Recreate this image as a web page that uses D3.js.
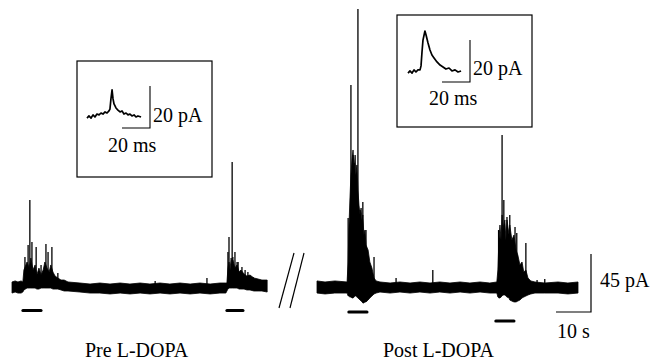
<!DOCTYPE html>
<html><head><meta charset="utf-8">
<script src="https://cdn.jsdelivr.net/npm/d3@7"></script>
<style>
body{margin:0;background:#fff}
text{font-family:"Liberation Serif","Times New Roman",serif;font-size:20px;fill:#000}
</style>
</head><body>
<svg id="c" width="650" height="360"></svg>
<script>
// ---------- DATA (time in s, current in pA) ----------
// Pre L-DOPA trace: noise-band envelope
const preEnvT  = [0,0.9,1.7,2.6,3.1, 3.4,4.3,4.9,5.4,6.0,6.6,7.1,7.7,8.3,8.9,9.4,10.0,10.6,11.1,11.7,12.3,13.1,14.0,14.9,16.0, 19.4,22.3,25.1,28,30.9,33.7,36.6,39.4,42.3,45.1,48,50.9,53.7,56.6,59.4,61.1, 61.4,61.7,62.0,62.3,62.6,62.9,63.1,63.7,64.3,64.9,65.4,66.3,67.1,68.0,69.1,70.3,71.4,72.9];
const preEnvHi = [3.9,4.7,3.9,4.7,3.9, 13.2,19.4,14.7,22.5,13.2,17.1,9.3,14.7,9.3,13.2,19.4,14.7,11.6,17.1,11.6,8.5,7.0,5.4,5.4,3.9, 3.1,2.3,3.1,2.3,3.1,2.3,3.1,2.3,3.1,2.3,3.1,2.3,3.1,2.3,3.1,3.1, 3.1,14.7,19.4,13.2,22.5,17.1,20.9,14.7,17.1,11.6,13.2,10.1,8.5,9.3,7.0,6.2,5.4,5.4];
const preEnvLo = [-4.7,-3.9,-4.7,-4.7,-3.9, -2.3,-0.8,-0.8,-0.8,-0.8,-0.8,-1.6,-1.6,-0.8,-0.8,-0.8,-0.8,-0.8,-0.8,-1.6,-1.6,-1.6,-2.3,-3.1,-3.1, -3.9,-4.7,-4.7,-5.4,-4.7,-5.4,-4.7,-5.4,-4.7,-5.4,-4.7,-5.4,-4.7,-5.4,-4.7,-4.7, -3.1,-1.6,-0.8,-0.8,-0.8,-0.8,-0.8,-0.8,-0.8,-1.6,-1.6,-1.6,-2.3,-2.3,-3.1,-3.1,-3.1,-3.9];
// Pre L-DOPA spikes (time, peak)
const preSpikeT = [3.7,4.6,5.1,5.7,6.9,8.3,9.7,10.3,11.4,13.1,40.9,55.7,61.7,62.0,62.9,63.1,63.7,64.3,64.6,65.7,66.6,67.4,68.9];
const preSpikeI = [23.3,32.6,67.5,34.9,31.0,17.1,33.4,27.2,31.0,10.9,4.7,7.0,27.2,38.8,97.0,23.3,27.2,19.4,19.4,15.5,13.2,11.6,7.8];
// Pre L-DOPA stimulus bars [start, end]
const preBarStart = [3.1,61.4];
const preBarEnd   = [8.3,66.0];

// Post L-DOPA trace: envelope
const postEnvT  = [0,2.3,5.1,8.6, 8.9,9.1,9.4,9.7,10.0,10.3,10.6,10.9,11.1,11.4,11.7,12.0,12.3,12.6,12.9,13.1,13.4,13.7,14.0,14.6,15.1,15.7,16.3,16.9, 18,20.9,23.7,26.6,29.4,32.3,35.1,38,40.9,43.7,46.6,49.4,51.4, 51.7,52.0,52.3,52.6,52.9,53.1,53.7,54.0,54.3,54.9,55.1,55.7,56.3,56.9,57.4,58.0,58.6,59.1,59.7,60.3,61.1, 62.3,65.1,68.9,71.7,74.6];
const postEnvHi = [4.7,3.9,4.7,3.9, 19.4,44.2,67.5,86.9,98.5,106.3,90.8,102.4,86.9,94.7,75.3,63.6,55.9,61.3,50.4,55.9,40.3,44.2,32.6,28.7,19.4,14.7,7.0,4.7, 3.9,3.1,3.9,3.1,3.9,3.1,3.9,3.1,3.9,3.1,3.9,3.1,3.9, 13.2,36.5,48.1,36.5,55.9,44.2,52.0,36.5,52.0,40.3,48.1,36.5,40.3,28.7,24.8,17.1,19.4,11.6,13.2,7.0,4.7, 3.9,3.1,3.9,3.1,3.9];
const postEnvLo = [-4.7,-5.4,-4.7,-4.7, -7.0,-7.0,-7.8,-7.8,-8.5,-8.5,-7.8,-7.0,-7.0,-7.8,-8.5,-9.3,-10.1,-10.9,-11.6,-12.4,-12.4,-11.6,-11.6,-10.1,-8.5,-7.0,-5.4,-4.7, -3.9,-4.7,-3.9,-4.7,-3.9,-4.7,-3.9,-4.7,-3.9,-4.7,-3.9,-4.7,-4.7, -7.8,-8.5,-8.5,-7.8,-7.0,-6.2,-6.2,-7.0,-7.8,-8.5,-10.1,-10.9,-11.6,-11.6,-10.9,-10.1,-8.5,-7.8,-7.0,-6.2,-5.4, -4.7,-4.7,-4.7,-5.4,-4.7];
const postSpikeT = [8.9,9.7,10.3,10.6,11.7,12.3,13.1,14.0,16.3,22.6,33.1,51.9,52.9,53.4,54.3,55.1,56.6,57.1,58.0,59.7,62.9,65.1];
const postSpikeI = [53.5,156.7,102.4,96.2,215.7,59.7,65.9,44.2,23.3,7.0,13.2,44.2,117.9,67.5,54.3,55.9,46.6,41.9,15.5,34.1,5.4,6.2];
const postBarStart = [9.1,51.1];
const postBarEnd   = [14.3,56.3];

// Insets: averaged EPSCs (time in ms, current in pA)
const preInsetT = [0,1.4,2.9,4.3,5.7,7.1,8.6,10,11.4,12.9,14.3,15.7,16.4,17.1,17.9,18.6,19.3,20.7,22.1,23.6,25,26.4,27.9,29.3,30.7,32.1,33.6,35,36.4,38.6];
const preInsetI = [-0.5,0.5,-0.5,1,0,1.4,1,1.9,1.4,2.4,1.9,2.9,3.8,8.6,12.9,8.6,6.2,4.3,3.3,2.4,2.9,1.4,1.9,1,1.4,0.5,1,0,0.5,0];
const postInsetT = [0,1.4,2.9,4.3,5.7,7.1,8.6,9.3,10,10.7,12.1,12.9,14.3,15.7,17.1,18.6,20.7,22.9,25,27.1,29.3,31.4,33.6,35.7,37.9];
const postInsetI = [-0.5,0.5,-0.5,1,0,1,1,2.9,9.5,15.2,19.5,17.6,13.8,10.5,8.1,6.7,4.8,3.3,2.4,1.4,1.9,0.5,1,0,0.5];

// Labels
const mainScaleI = 45, mainScaleT = 10, insetScaleI = 20, insetScaleT = 20;
const panelLabels = ["Pre L-DOPA","Post L-DOPA"];

// ---------- DRAW ----------
const svg = d3.select("#c");
const yMain = d3.scaleLinear().domain([0,45]).range([287,229]);
const xPre  = d3.scaleLinear().domain([0,73]).range([12,267.5]);
const xPost = d3.scaleLinear().domain([0,74.6]).range([317,578]);

function drawTrace(x, T, Hi, Lo, ST, SI, B0, B1, barYs){
  const env = T.map((t,i)=>({t, hi:Hi[i], lo:Lo[i]}));
  const area = d3.area().x(d=>x(d.t)).y0(d=>yMain(d.lo)).y1(d=>yMain(d.hi));
  svg.append("path").datum(env).attr("d",area)
     .attr("fill","#000").attr("stroke","#000").attr("stroke-width",0.8);
  svg.append("g").selectAll("line").data(ST.map((t,i)=>({t,v:SI[i]}))).join("line")
     .attr("x1",d=>x(d.t)).attr("x2",d=>x(d.t))
     .attr("y1",yMain(0)).attr("y2",d=>yMain(d.v))
     .attr("stroke","#000").attr("stroke-width",1.3);
  svg.append("g").selectAll("line").data(B0.map((t,i)=>({a:t,b:B1[i],y:barYs[i]}))).join("line")
     .attr("x1",d=>x(d.a)).attr("x2",d=>x(d.b)).attr("y1",d=>d.y).attr("y2",d=>d.y)
     .attr("stroke","#000").attr("stroke-width",3).attr("stroke-linecap","round");
}
drawTrace(xPre, preEnvT, preEnvHi, preEnvLo, preSpikeT, preSpikeI, preBarStart, preBarEnd, [310.5,310.5]);
drawTrace(xPost, postEnvT, postEnvHi, postEnvLo, postSpikeT, postSpikeI, postBarStart, postBarEnd, [312,321]);

// break marks
[[294,253,279,308],[304,253,290,308]].forEach(p=>{
  svg.append("line").attr("x1",p[0]).attr("y1",p[1]).attr("x2",p[2]).attr("y2",p[3])
     .attr("stroke","#000").attr("stroke-width",1.2);
});

// main scale bar
const sx = 591, sy = 312;
const xS = d3.scaleLinear().domain([0,10]).range([0,35]);
svg.append("path")
   .attr("d",`M${sx},${sy-(yMain(0)-yMain(mainScaleI))}V${sy}H${sx-xS(mainScaleT)}`)
   .attr("fill","none").attr("stroke","#000").attr("stroke-width",1.2);
svg.append("text").attr("x",600).attr("y",287).text(mainScaleI+" pA");
svg.append("text").attr("x",557).attr("y",338).text(mainScaleT+" s");

// panel labels
svg.append("text").attr("x",85).attr("y",357).text(panelLabels[0]);
svg.append("text").attr("x",383).attr("y",357).text(panelLabels[1]);

// insets
const xIn = d3.scaleLinear().domain([0,20]).range([0,28]);
const yIn = d3.scaleLinear().domain([0,20]).range([0,-42]);
function drawInset(box, ox, oy, T, I, bar, labA, labB){
  svg.append("rect").attr("x",box[0]).attr("y",box[1]).attr("width",box[2]-box[0]).attr("height",box[3]-box[1])
     .attr("fill","none").attr("stroke","#000").attr("stroke-width",1.2);
  const line = d3.line().x(d=>ox+xIn(d.t)).y(d=>oy+yIn(d.v));
  svg.append("path").datum(T.map((t,i)=>({t,v:I[i]}))).attr("d",line)
     .attr("fill","none").attr("stroke","#000").attr("stroke-width",1.7).attr("stroke-linejoin","round");
  svg.append("path")
     .attr("d",`M${bar[0]},${bar[1]+yIn(insetScaleI)}V${bar[1]}H${bar[0]-xIn(insetScaleT)}`)
     .attr("fill","none").attr("stroke","#000").attr("stroke-width",1.1);
  svg.append("text").attr("x",labA[0]).attr("y",labA[1]).text(insetScaleI+" pA");
  svg.append("text").attr("x",labB[0]).attr("y",labB[1]).text(insetScaleT+" ms");
}
drawInset([77,61,212,177], 87, 117, preInsetT, preInsetI, [150,128], [153,122], [108,152]);
drawInset([397,15,532,127], 408, 72, postInsetT, postInsetI, [470,82], [473,75], [429,105]);
</script>
</body></html>
